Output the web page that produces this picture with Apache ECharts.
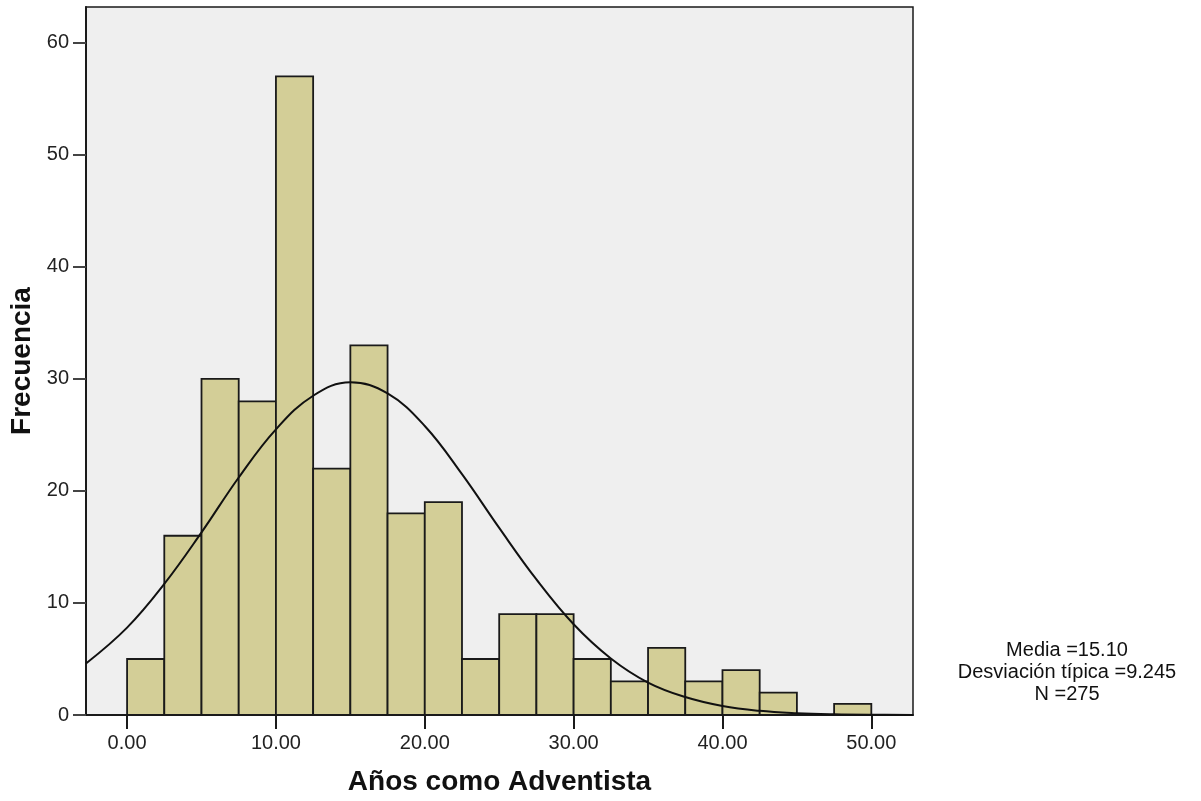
<!DOCTYPE html>
<html>
<head>
<meta charset="utf-8">
<script src="https://cdn.jsdelivr.net/npm/echarts@6/dist/echarts.min.js"></script>
<style>
  html, body { margin: 0; padding: 0; background: #fff; }
  #chart { width: 1201px; height: 801px; }
</style>
</head>
<body>
<div id="chart"></div>
<script>
// histogram bins (width 2.5)
const binStart = [0, 2.5, 5, 7.5, 10, 12.5, 15, 17.5, 20, 22.5, 25, 27.5, 30, 32.5, 35, 37.5, 40, 42.5, 45, 47.5]
const binCount = [5, 16, 30, 28, 57, 22, 33, 18, 19, 5, 9, 9, 5, 3, 6, 3, 4, 2, 0, 1]
const binWidth = 2.5

// normal curve
const curveX = [-2.76, 0, 2.5, 5, 7.5, 10, 12.5, 15, 17.5, 20, 22.5, 25, 27.5, 30, 32.5, 35, 37.5, 40, 42.5, 45, 47.5, 50, 52.8]
const curveY = [4.6, 7.8, 11.7, 16.3, 21.2, 25.5, 28.5, 29.7, 28.7, 25.8, 21.5, 16.7, 12.1, 8.1, 5.05, 2.9, 1.6, 0.8, 0.37, 0.16, 0.06, 0.02, 0.01]

const xTicks = [0, 10, 20, 30, 40, 50]
const yTicks = [0, 10, 20, 30, 40, 50, 60]
const statLines = ['Media =15.10', 'Desviación típica =9.245', 'N =275']

const font = '"Liberation Sans", Arial, sans-serif'
const chart = echarts.init(document.getElementById('chart'))

const bars = binStart.map((s, i) => [s, s + binWidth, binCount[i]])

const option = {
  animation: false,
  grid: {
    left: 86, top: 7, right: 288, bottom: 86,
    outerBoundsMode: 'none',
    containLabel: false,
    show: true,
    backgroundColor: '#efefef',
    borderColor: '#1a1a1a',
    borderWidth: 1.5
  },
  xAxis: {
    type: 'value',
    min: -2.76,
    max: 52.8,
    name: 'Años como Adventista',
    nameLocation: 'middle',
    nameGap: 53,
    nameTextStyle: { fontFamily: font, fontSize: 28, fontWeight: 'bold', color: '#111' },
    axisLine: { show: true, onZero: false, lineStyle: { color: '#1a1a1a', width: 2 } },
    axisTick: { show: true, customValues: xTicks, length: 14, lineStyle: { color: '#1a1a1a', width: 2 } },
    axisLabel: {
      customValues: xTicks,
      formatter: v => v.toFixed(2),
      fontFamily: font, fontSize: 20, color: '#222', margin: 18
    },
    splitLine: { show: false }
  },
  yAxis: {
    type: 'value',
    min: 0,
    max: 63.2,
    name: 'Frecuencia',
    nameLocation: 'middle',
    nameGap: 45,
    nameRotate: 90,
    nameTextStyle: { fontFamily: font, fontSize: 28, fontWeight: 'bold', color: '#111' },
    axisLine: { show: true, onZero: false, lineStyle: { color: '#1a1a1a', width: 2 } },
    axisTick: { show: true, customValues: yTicks, length: 13, lineStyle: { color: '#444', width: 2 } },
    axisLabel: {
      customValues: yTicks,
      fontFamily: font, fontSize: 20, color: '#222', margin: 17
    },
    splitLine: { show: false }
  },
  series: [
    {
      type: 'custom',
      data: bars,
      encode: { x: [0, 1], y: 2 },
      renderItem: (params, api) => {
        const p0 = api.coord([api.value(0), api.value(2)])
        const p1 = api.coord([api.value(1), 0])
        return {
          type: 'rect',
          shape: { x: p0[0], y: p0[1], width: p1[0] - p0[0], height: p1[1] - p0[1] },
          style: { fill: '#d3ce97', stroke: '#1a1a1a', lineWidth: 1.8 }
        }
      },
      z: 2
    },
    {
      type: 'line',
      data: curveX.map((x, i) => [x, curveY[i]]),
      smooth: 0.4,
      showSymbol: false,
      lineStyle: { color: '#111', width: 2 },
      z: 3
    }
  ],
  graphic: statLines.map((t, i) => ({
    type: 'text',
    x: 1067,
    y: 650 + i * 22,
    style: {
      text: t,
      fontFamily: font,
      fontSize: 20,
      fill: '#111',
      align: 'center',
      verticalAlign: 'middle'
    }
  }))
}

chart.setOption(option)
</script>
</body>
</html>
